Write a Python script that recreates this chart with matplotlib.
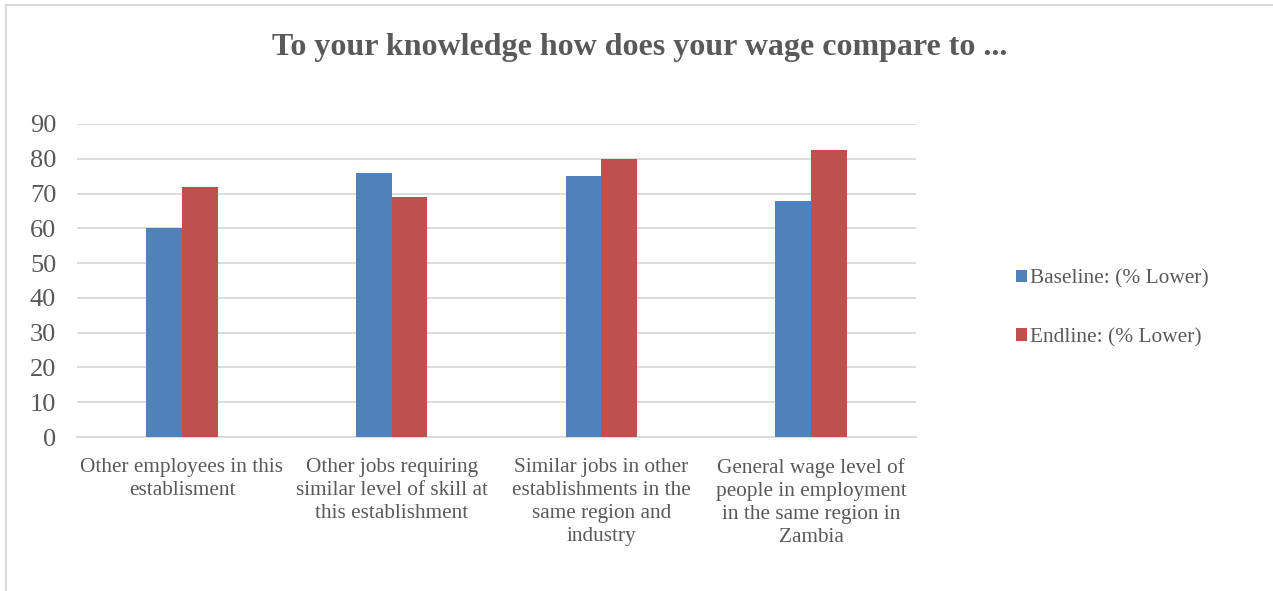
import matplotlib.pyplot as plt
import numpy as np
from matplotlib.lines import Line2D

categories = ["Other employees in this\nestablisment",
              "Other jobs requiring\nsimilar level of skill at\nthis establishment",
              "Similar jobs in other\nestablishments in the\nsame region and\nindustry",
              "General wage level of\npeople in employment\nin the same region in\nZambia"]
baseline = [60, 76, 75, 68]
endline = [72, 69, 80, 82.5]
series_names = ["Baseline: (% Lower)", "Endline: (% Lower)"]

plt.rcParams['font.family'] = ['Liberation Serif', 'DejaVu Serif']
txt_color = '#595959'

fig = plt.figure(figsize=(12.73, 5.91), dpi=100)
ax = fig.add_axes([77 / 1273, 1 - 437 / 591, (916 - 77) / 1273, (437 - 124) / 591])

index = np.arange(len(categories))
bar_width = 0.17
ax.bar(index - bar_width / 2, baseline, bar_width, color='#4f81bd',
       label=series_names[0], zorder=3)
ax.bar(index + bar_width / 2, endline, bar_width, color='#c0504d',
       label=series_names[1], zorder=3)

ax.set_xlim(-0.5, len(categories) - 0.5)
ax.set_ylim(0, 90)
ax.set_yticks(range(0, 91, 10))
ax.set_xticks(index)
ax.set_xticklabels(categories, fontsize=15.3, color=txt_color, linespacing=1.3,
                   va='top')
ax.tick_params(axis='y', labelsize=19, colors=txt_color, length=0, pad=15)
ax.tick_params(axis='x', length=0, pad=15)
ax.grid(axis='y', color='#d9d9d9', linewidth=1.3, zorder=0)
for s in ['top', 'right', 'left']:
    ax.spines[s].set_visible(False)
ax.spines['bottom'].set_color('#d9d9d9')
ax.spines['bottom'].set_linewidth(1.3)

fig.text(640 / 1273, 1 - 47 / 591, "To your knowledge how does your wage compare to ...",
         ha='center', va='center', fontsize=23, fontweight='bold', color=txt_color)

ax.legend(loc='center left', bbox_to_anchor=(997 / 1273, 1 - 308 / 591),
          bbox_transform=fig.transFigure, frameon=False, fontsize=15.4,
          labelcolor=txt_color, handlelength=0.5, handleheight=0.5,
          handletextpad=0.15, labelspacing=1.85)

# chart area frame (top and left edges)
fig.add_artist(Line2D([6 / 1273, 6 / 1273], [0, 1 - 5 / 591], color='#d9d9d9',
                      linewidth=1.5, transform=fig.transFigure))
fig.add_artist(Line2D([6 / 1273, 1], [1 - 5 / 591, 1 - 5 / 591], color='#d9d9d9',
                      linewidth=1.5, transform=fig.transFigure))

fig.savefig("out.png", dpi=100)
